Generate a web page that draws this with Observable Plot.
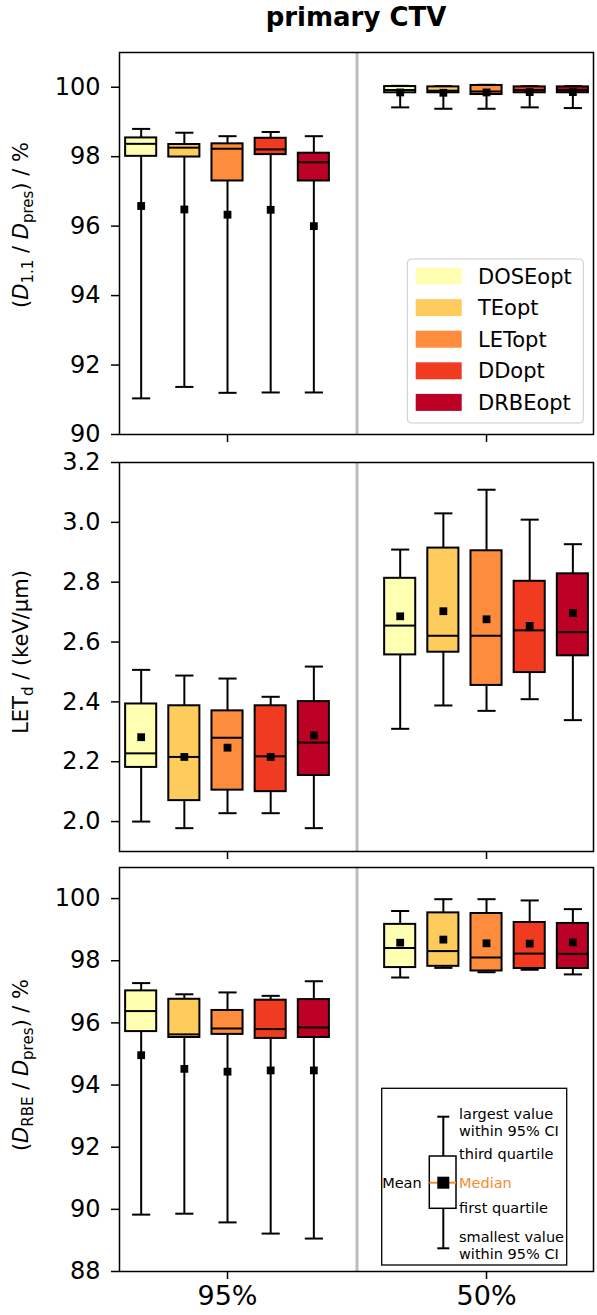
<!DOCTYPE html>
<html><head><meta charset="utf-8">
<script src="https://cdn.jsdelivr.net/npm/d3@7"></script>
<script src="https://cdn.jsdelivr.net/npm/@observablehq/plot@0.6"></script>
<style>
body{margin:0;background:#fff;font-family:"DejaVu Sans",sans-serif;}
#wrap{width:597px;}
#title{height:40px;margin-left:119px;width:474px;text-align:center;font-weight:bold;font-size:26px;line-height:34px;color:#000;}
svg{display:block}
</style></head><body><div id="wrap"><div id="title">primary CTV</div></div>
<script>
const groups = ["95%", "50%"];
const series = ["DOSEopt", "TEopt", "LETopt", "DDopt", "DRBEopt"];
const colors = ["#ffffb2", "#fecc5c", "#fd8d3c", "#f03b20", "#bd0026"];

// Panel 1: D1.1 / Dpres (%), order: 95% x5, then 50% x5
const d11Low  = [91.04, 91.37, 91.20, 91.21, 91.21, 99.42, 99.38, 99.38, 99.42, 99.40];
const d11Q1   = [98.01, 97.99, 97.30, 98.06, 97.30, 99.84, 99.84, 99.79, 99.84, 99.84];
const d11Med  = [98.37, 98.26, 98.23, 98.21, 97.84, 99.92, 99.90, 99.88, 99.92, 99.92];
const d11Q3   = [98.54, 98.35, 98.37, 98.53, 98.10, 100.02, 100.01, 100.05, 100.01, 100.01];
const d11High = [98.80, 98.69, 98.59, 98.71, 98.59, 100.04, 100.03, 100.07, 100.03, 100.03];
const d11Mean = [96.58, 96.48, 96.33, 96.47, 96.00, 99.85, 99.84, 99.85, 99.86, 99.86];

// Panel 2: LETd (keV/µm)
const letLow  = [2.000, 1.978, 2.028, 2.028, 1.978, 2.310, 2.388, 2.370, 2.409, 2.339];
const letQ1   = [2.181, 2.070, 2.105, 2.100, 2.154, 2.557, 2.566, 2.455, 2.498, 2.554];
const letMed  = [2.228, 2.216, 2.280, 2.218, 2.264, 2.655, 2.621, 2.621, 2.639, 2.633];
const letQ3   = [2.393, 2.387, 2.370, 2.387, 2.401, 2.813, 2.914, 2.905, 2.803, 2.828];
const letHigh = [2.507, 2.488, 2.478, 2.417, 2.518, 2.909, 3.030, 3.109, 3.009, 2.927];
const letMean = [2.282, 2.216, 2.247, 2.216, 2.288, 2.686, 2.703, 2.676, 2.654, 2.697];

// Panel 3: DRBE / Dpres (%)
const rbeLow  = [89.83, 89.86, 89.58, 89.22, 89.06, 97.46, 97.77, 97.63, 97.71, 97.56];
const rbeQ1   = [95.72, 95.53, 95.63, 95.50, 95.53, 97.78, 97.82, 97.67, 97.75, 97.75];
const rbeMed  = [96.38, 95.63, 95.82, 95.80, 95.85, 98.41, 98.31, 98.10, 98.23, 98.22];
const rbeQ3   = [97.03, 96.76, 96.40, 96.73, 96.75, 99.17, 99.54, 99.52, 99.23, 99.20];
const rbeHigh = [97.28, 96.92, 96.98, 96.87, 97.34, 99.60, 99.98, 99.98, 99.94, 99.66];
const rbeMean = [94.96, 94.52, 94.43, 94.47, 94.47, 98.58, 98.68, 98.56, 98.55, 98.59];

const d11Ticks = [90, 92, 94, 96, 98, 100];
const letTicks = [2.0, 2.2, 2.4, 2.6, 2.8, 3.0, 3.2];
const rbeTicks = [88, 90, 92, 94, 96, 98, 100];

const legendItems = ["DOSEopt", "TEopt", "LETopt", "DDopt", "DRBEopt"];
const explainTexts = ["largest value", "within 95% CI", "third quartile", "Median", "first quartile", "smallest value", "within 95% CI"];

function rowsFor(lo, q1, med, q3, hi, mean) {
  return lo.map((_, k) => {
    const gi = Math.floor(k / 5), si = k % 5;
    return {group: groups[gi], series: series[si], x: gi + (si - 2) / 6,
      lo: lo[k], q1: q1[k], med: med[k], q3: q3[k], hi: hi[k], mean: mean[k]};
  });
}

const FONT = "DejaVu Sans";

function panel({rows, yDomain, yTicks, tickFmt, height, mt, mb, showX}) {
  const bw = 0.06, cw = 0.035;
  const svg = Plot.plot({
    width: 597, height, marginLeft: 119, marginRight: 4, marginTop: mt, marginBottom: mb,
    style: {fontFamily: FONT, background: "white", color: "black", overflow: "visible"},
    x: {domain: [-0.417, 1.413]},
    y: {domain: yDomain},
    color: {domain: series, range: colors},
    marks: [
      Plot.ruleX([0.5], {stroke: "#bdbdbd", strokeWidth: 3}),
      Plot.ruleX(rows, {x: "x", y1: "lo", y2: "hi", stroke: "black", strokeWidth: 2}),
      Plot.link(rows, {x1: d => d.x - cw, x2: d => d.x + cw, y1: "lo", y2: "lo", stroke: "black", strokeWidth: 2}),
      Plot.link(rows, {x1: d => d.x - cw, x2: d => d.x + cw, y1: "hi", y2: "hi", stroke: "black", strokeWidth: 2}),
      Plot.rect(rows, {x1: d => d.x - bw, x2: d => d.x + bw, y1: "q1", y2: "q3", fill: "series", stroke: "black", strokeWidth: 2}),
      Plot.link(rows, {x1: d => d.x - bw, x2: d => d.x + bw, y1: "med", y2: "med", stroke: "black", strokeWidth: 2}),
      Plot.dot(rows, {x: "x", y: "mean", symbol: "square", fill: "black", stroke: null, r: 4.4}),
      Plot.frame({stroke: "black", strokeWidth: 1.5}),
      Plot.axisY({ticks: yTicks, tickSize: 8, tickPadding: 11, fontSize: 24, tickFormat: tickFmt, label: null, strokeWidth: 1.5}),
      Plot.axisX({ticks: [0, 1], tickSize: 8, tickPadding: 6, fontSize: 27, tickFormat: showX ? (i => groups[i]) : (() => ""), label: null, strokeWidth: 1.5})
    ]
  });
  d3.select(svg).selectAll('g[aria-label="y-axis tick label"]').attr("font-size", 24);
  d3.select(svg).selectAll('g[aria-label="x-axis tick label"]').attr("font-size", 27);
  return svg;
}

function ylabel(svg, cx, cy, parts) {
  const t = d3.select(svg).append("text")
    .attr("transform", `translate(${cx + 7},${cy}) rotate(-90)`)
    .attr("text-anchor", "middle")
    .attr("font-family", FONT).attr("font-size", 21).attr("fill", "black")
    .style("white-space", "pre");
  let prevSub = false;
  parts.forEach(p => {
    const ts = t.append("tspan").text(p.t);
    if (p.i) ts.attr("font-style", "italic");
    if (p.sub) ts.attr("font-size", 15);
    if (p.sub && !prevSub) ts.attr("dy", 5);
    if (!p.sub && prevSub) ts.attr("dy", -5);
    prevSub = !!p.sub;
  });
}

const wrap = document.getElementById("wrap");

// Panel 1 (page top 40)
const svg1 = panel({rows: rowsFor(d11Low, d11Q1, d11Med, d11Q3, d11High, d11Mean), yDomain: [90, 101], yTicks: d11Ticks, tickFmt: d => String(d), height: 408, mt: 12, mb: 14, showX: false});
wrap.appendChild(svg1);
ylabel(svg1, 21, 185, [{t: "("}, {t: "D", i: 1}, {t: "1.1", sub: 1}, {t: " / "}, {t: "D", i: 1}, {t: "pres", sub: 1}, {t: ") / %"}]);
{
  const off = 40;
  const g = d3.select(svg1).append("g").attr("font-family", FONT).attr("text-anchor", "start");
  g.append("rect").attr("x", 407.3).attr("y", 259 - off).attr("width", 176).attr("height", 164)
    .attr("rx", 4).attr("fill", "white").attr("fill-opacity", 0.85).attr("stroke", "#cccccc").attr("stroke-width", 1);
  legendItems.forEach((name, i) => {
    const cy = 276 + 31.6 * i - off;
    g.append("rect").attr("x", 415.7).attr("y", cy - 8.5).attr("width", 46).attr("height", 17).attr("fill", colors[i]);
    g.append("text").attr("x", 478).attr("y", cy + 7.5).attr("font-size", 21).attr("text-anchor", "start").attr("fill", "black").text(name);
  });
}

// Panel 2 (page top 448)
const svg2 = panel({rows: rowsFor(letLow, letQ1, letMed, letQ3, letHigh, letMean), yDomain: [1.9, 3.2], yTicks: letTicks, tickFmt: d3.format(".1f"), height: 412, mt: 14, mb: 9, showX: false});
wrap.appendChild(svg2);
ylabel(svg2, 21, 204, [{t: "LET"}, {t: "d", sub: 1}, {t: " / (keV/µm)"}]);

// Panel 3 (page top 860)
const svg3 = panel({rows: rowsFor(rbeLow, rbeQ1, rbeMed, rbeQ3, rbeHigh, rbeMean), yDomain: [88, 101], yTicks: rbeTicks, tickFmt: d => String(d), height: 455, mt: 7, mb: 44, showX: true});
wrap.appendChild(svg3);
ylabel(svg3, 21, 205, [{t: "("}, {t: "D", i: 1}, {t: "RBE", sub: 1}, {t: " / "}, {t: "D", i: 1}, {t: "pres", sub: 1}, {t: ") / %"}]);
{
  const off = 860;
  const g = d3.select(svg3).append("g").attr("font-family", FONT).attr("text-anchor", "start");
  g.append("rect").attr("x", 381.7).attr("y", 1088.3 - off).attr("width", 185).attr("height", 176.7)
    .attr("fill", "white").attr("stroke", "black").attr("stroke-width", 1.3);
  const wx = 443.3;
  g.append("line").attr("x1", wx).attr("x2", wx).attr("y1", 1116.7 - off).attr("y2", 1248.3 - off).attr("stroke", "black").attr("stroke-width", 2);
  [1116.7, 1248.3].forEach(y => g.append("line").attr("x1", wx - 6).attr("x2", wx + 6).attr("y1", y - off).attr("y2", y - off).attr("stroke", "black").attr("stroke-width", 2));
  g.append("rect").attr("x", 429.3).attr("y", 1156 - off).attr("width", 26.7).attr("height", 52.3).attr("fill", "white").attr("stroke", "black").attr("stroke-width", 1.5);
  g.append("line").attr("x1", 429.3).attr("x2", 456).attr("y1", 1182.7 - off).attr("y2", 1182.7 - off).attr("stroke", "#f68c2e").attr("stroke-width", 2);
  g.append("rect").attr("x", wx - 6).attr("y", 1182.7 - 6 - off).attr("width", 12).attr("height", 12).attr("fill", "black");
  const base = [1119, 1135.5, 1159, 1188, 1213, 1241.5, 1259];
  explainTexts.forEach((s, i) => {
    g.append("text").attr("x", 459).attr("y", base[i] - off).attr("font-size", 14.5).attr("text-anchor", "start")
      .attr("fill", s === "Median" ? "#f68c2e" : "black").text(s);
  });
  g.append("text").attr("x", 421.7).attr("y", 1188 - off).attr("font-size", 14.5).attr("text-anchor", "end").attr("fill", "black").text("Mean");
}
</script></body></html>
